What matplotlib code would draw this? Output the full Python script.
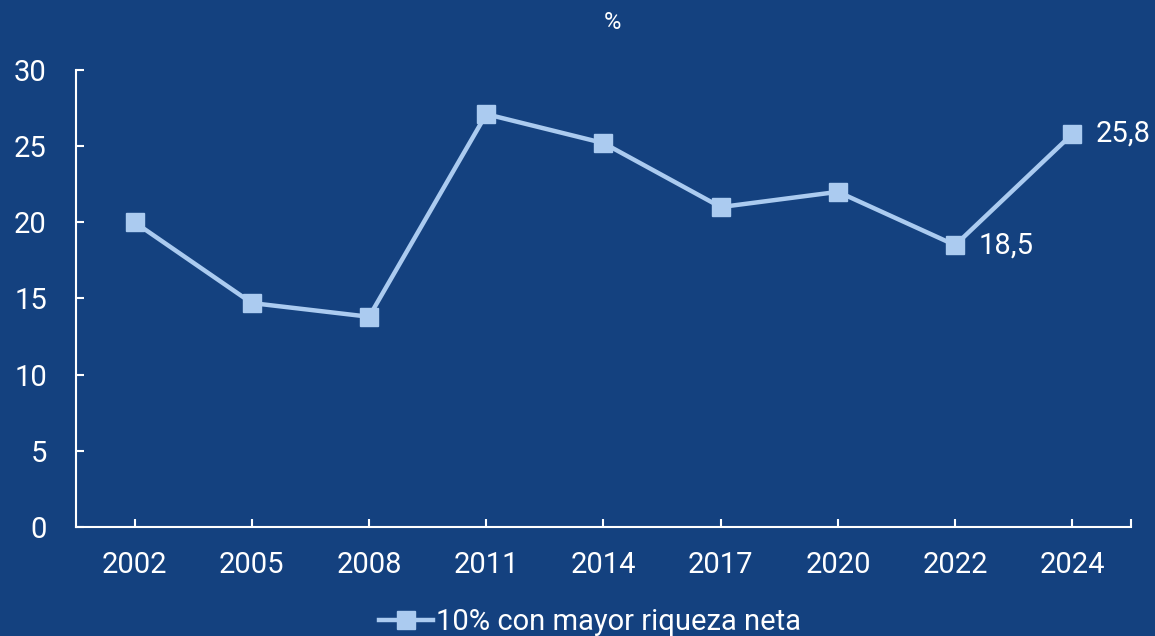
import matplotlib.pyplot as plt
import numpy as np

plt.rcParams['font.family'] = ['Roboto', 'DejaVu Sans']

years = ['2002', '2005', '2008', '2011', '2014', '2017', '2020', '2022', '2024']
values = [20.0, 14.7, 13.8, 27.1, 25.2, 21.0, 22.0, 18.5, 25.8]
series_name = '10% con mayor riqueza neta'

bg = '#14417f'
line_col = '#abcbf0'

fig = plt.figure(figsize=(11.55, 6.36), dpi=100, facecolor=bg)
ax = fig.add_axes([0.0658, 0.1714, 0.9134, 0.7186], facecolor=bg)

x = np.arange(len(years))
ax.plot(x, values, color=line_col, lw=3.2, marker='s', markersize=13,
        markerfacecolor=line_col, markeredgecolor=line_col, label=series_name)

for i in (7, 8):
    ax.annotate('{:.1f}'.format(values[i]).replace('.', ','), (x[i], values[i]),
                xytext=(17, 0), textcoords='offset points', va='center', ha='left',
                color='white', fontsize=21)

ax.set_xlim(-0.5, len(years) - 0.5)
ax.set_ylim(0, 30)
ax.set_yticks(range(0, 31, 5))
ax.set_xticks(x)
ax.set_xticklabels(years)
ax.set_xticks([len(years) - 0.5], minor=True)

for s in ['top', 'right']:
    ax.spines[s].set_visible(False)
for s in ['left', 'bottom']:
    ax.spines[s].set_color('white')
    ax.spines[s].set_linewidth(1.5)

ax.tick_params(axis='y', direction='in', length=6, width=1.5, colors='white',
               labelsize=21, pad=21)
ax.tick_params(axis='x', direction='in', length=6, width=1.5, colors='white',
               labelsize=21, pad=17)
ax.tick_params(axis='x', which='minor', direction='in', length=6, width=1.5, colors='white')

fig.text(0.53, 0.965, '%', color='white', fontsize=17, ha='center', va='center')

leg = fig.legend(loc='center', bbox_to_anchor=(0.511, 0.022), frameon=False,
                 fontsize=21, handlelength=1.85, handletextpad=0.1)
for t in leg.get_texts():
    t.set_color('white')

fig.savefig('out.png', dpi=100, facecolor=bg)
